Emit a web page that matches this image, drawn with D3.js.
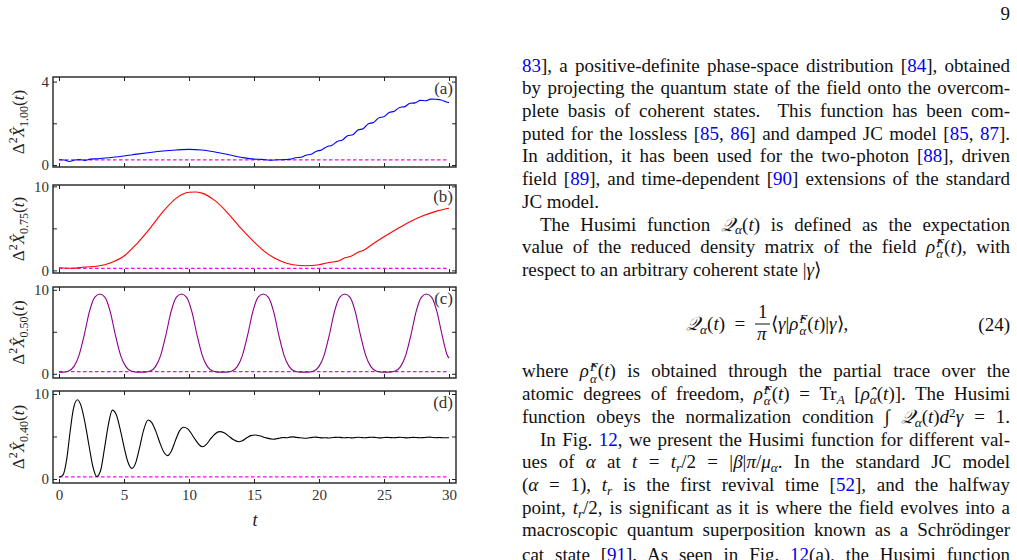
<!DOCTYPE html>
<html>
<head>
<meta charset="utf-8">
<script src="https://cdn.jsdelivr.net/npm/d3@7"></script>
<style>
body { margin: 0; background: #fff; }
#page { position: relative; width: 1017px; height: 560px; overflow: hidden; }
#page svg { position: absolute; left: 0; top: 0; }
.ln { position: absolute; left: 522px; width: 488px; font-family: "Liberation Serif", serif; font-size: 19px; line-height: 22px; color: #111; text-align: justify; text-align-last: justify; }
.ln.last { text-align-last: left; }
.ln.ind { left: 540px; width: 470px; }
.c { color: #0000f0; }
.m { font-style: italic; }
.sb { font-size: 0.7em; position: relative; top: 0.3em; line-height: 0; }
.sp { font-size: 0.7em; position: relative; top: -0.45em; line-height: 0; }
.ss { display: inline-block; font-size: 0.68em; line-height: 0.9em; vertical-align: -0.4em; text-align: left; margin-left: 1px; }
</style>
</head>
<body>
<div id="page"></div>
<script>
// time axis and tick values
const xTicks = [0, 5, 10, 15, 20, 25, 30];
const vacuum = 0.25;

// panel (a): alpha = 1.00
const tA = [0, 0.4, 0.8, 1.2, 1.6, 2.0, 2.4, 3, 4, 5, 6, 7, 8, 9, 10, 11, 12, 13, 14, 15, 15.6, 16.2, 16.8, 17.4, 17.8,
  18.2, 18.6, 19.0, 19.4, 19.8, 20.2, 20.6, 21.0, 21.4, 21.8, 22.2, 22.6, 23.0, 23.4, 23.8, 24.2, 24.6, 25.0, 25.4, 25.8,
  26.2, 26.6, 27.0, 27.4, 27.8, 28.2, 28.6, 29.0, 29.4, 29.8, 30];
const vA = [0.25, 0.24, 0.17, 0.24, 0.26, 0.22, 0.28, 0.3, 0.36, 0.43, 0.52, 0.6, 0.67, 0.72, 0.75, 0.72, 0.62, 0.5, 0.37, 0.28, 0.27, 0.23, 0.25, 0.26, 0.28,
  0.35, 0.37, 0.47, 0.52, 0.66, 0.72, 0.88, 0.95, 1.13, 1.2, 1.4, 1.45, 1.68, 1.74, 1.98, 2.04, 2.26, 2.32, 2.52, 2.58,
  2.76, 2.8, 2.96, 2.98, 3.1, 3.08, 3.16, 3.15, 3.12, 3.02, 2.99];

// panel (b): alpha = 0.75
const tB = [0, 1, 2, 3, 4, 5, 6, 7, 8, 9, 10, 10.5, 11, 12, 13, 14, 15, 16, 17, 18, 19, 20, 20.5, 21, 21.5, 22, 22.5, 23, 23.5, 24, 25, 26, 27, 28, 29, 30];
const vB = [0.32, 0.25, 0.4, 0.52, 0.92, 1.71, 3.2, 5.0, 7.0, 8.58, 9.3, 9.33, 9.2, 8.3, 6.8, 5.0, 3.4, 2.03, 1.15, 0.68, 0.56, 0.68, 0.85, 1.0, 1.12, 1.5, 1.72, 2.15, 2.45, 3.0, 4.0, 4.93, 5.8, 6.5, 7.03, 7.39];

// panel (c): alpha = 0.50
const tC = [0, 0.34, 0.74, 1.14, 1.54, 1.94, 2.34, 2.74, 3.14, 3.54, 3.94, 4.34, 4.74, 5.14, 5.54, 5.94, 6.28,
  6.62, 7.02, 7.42, 7.82, 8.22, 8.62, 9.02, 9.42, 9.82, 10.22, 10.62, 11.02, 11.42, 11.82, 12.22, 12.57,
  12.91, 13.31, 13.71, 14.11, 14.51, 14.91, 15.31, 15.71, 16.11, 16.51, 16.91, 17.31, 17.71, 18.11, 18.51, 18.85,
  19.19, 19.59, 19.99, 20.39, 20.79, 21.19, 21.59, 21.99, 22.39, 22.79, 23.19, 23.59, 23.99, 24.39, 24.79, 25.13,
  25.47, 25.87, 26.27, 26.67, 27.07, 27.47, 27.87, 28.27, 28.67, 29.07, 29.47, 29.87, 30];
const vC = [0.2, 0.2, 0.33, 0.85, 2.2, 4.6, 7.4, 9.1, 9.5, 9.1, 7.4, 4.6, 2.2, 0.85, 0.33, 0.2, 0.2,
  0.2, 0.33, 0.85, 2.2, 4.6, 7.4, 9.1, 9.5, 9.1, 7.4, 4.6, 2.2, 0.85, 0.33, 0.2, 0.2,
  0.2, 0.33, 0.85, 2.2, 4.6, 7.4, 9.1, 9.5, 9.1, 7.4, 4.6, 2.2, 0.85, 0.33, 0.2, 0.2,
  0.2, 0.33, 0.85, 2.2, 4.6, 7.4, 9.1, 9.5, 9.1, 7.4, 4.6, 2.2, 0.85, 0.33, 0.2, 0.2,
  0.2, 0.33, 0.85, 2.2, 4.6, 7.4, 9.1, 9.5, 9.1, 7.4, 4.6, 2.2, 1.85];

// panel (d): alpha = 0.40
const tD = [0, 0.3, 0.6, 0.85, 1.1, 1.41, 1.7, 2.0, 2.3, 2.6, 2.9, 3.2, 3.5, 3.8, 4.1, 4.4, 4.7, 5.0, 5.3, 5.6,
  5.9, 6.2, 6.5, 6.85, 7.15, 7.45, 7.75, 8.05, 8.35, 8.65, 8.95, 9.25, 9.6, 9.9, 10.2, 10.5, 10.8, 11.05,
  11.35, 11.7, 12.0, 12.35, 12.7, 13.05, 13.4, 13.8, 14.1, 14.45, 14.75, 15.1, 15.5, 15.9, 16.5,
  16.75, 17.0, 17.25, 17.5, 17.75, 18.0, 18.25, 18.5, 18.75, 19.0, 19.25, 19.5, 19.75, 20.0, 20.25, 20.5, 20.75,
  21.0, 21.25, 21.5, 21.75, 22.0, 22.25, 22.5, 22.75, 23.0, 23.25, 23.5, 23.75, 24.0, 24.25, 24.5, 24.75,
  25.0, 25.25, 25.5, 25.75, 26.0, 26.25, 26.5, 26.75, 27.0, 27.25, 27.5, 27.75, 28.0, 28.25, 28.5, 28.75,
  29.0, 29.25, 29.5, 29.75, 30];
const vD = [0.2, 0.45, 2.4, 5.5, 8.2, 9.33, 8.6, 6.6, 4.0, 1.5, 0.3, 1.0, 3.6, 6.4, 8.1, 7.6, 5.9, 3.8, 2.0, 1.25,
  1.9, 3.7, 5.7, 6.94, 6.6, 5.6, 4.3, 3.2, 2.75, 3.3, 4.5, 5.6, 6.08, 5.9, 5.3, 4.6, 4.0, 3.8,
  4.1, 4.8, 5.3, 5.57, 5.45, 5.05, 4.65, 4.39, 4.5, 4.85, 5.1, 5.18, 5.05, 4.85, 4.68,
  4.74, 4.82, 4.88, 4.85, 4.93, 4.96, 4.9, 4.86, 4.82, 4.8, 4.86, 4.9, 4.93, 4.88, 4.84, 4.86, 4.82,
  4.86, 4.9, 4.92, 4.87, 4.85, 4.88, 4.84, 4.87, 4.91, 4.89, 4.85, 4.88, 4.92, 4.9, 4.86, 4.84,
  4.88, 4.9, 4.87, 4.85, 4.88, 4.91, 4.88, 4.84, 4.87, 4.9, 4.88, 4.85, 4.87, 4.9, 4.93, 4.89,
  4.86, 4.88, 4.86, 4.85, 4.86];

const subs = ['1.00', '0.75', '0.50', '0.40'];
const tags = ['(a)', '(b)', '(c)', '(d)'];
const yMax = [4, 10, 10, 10];
const yTicks = [[0, 2, 4], [0, 5, 10], [0, 5, 10], [0, 5, 10]];

// layout of the four stacked frames
const panels = [
  { t: tA, v: vA, color: '#0000ff', top: 77, bot: 167, y0: 165, y1: 81.6 },
  { t: tB, v: vB, color: '#ff0000', top: 185, bot: 273, y0: 270.4, y1: 186.4 },
  { t: tC, v: vC, color: '#8a008a', top: 287, bot: 378, y0: 373.8, y1: 289.8 },
  { t: tD, v: vD, color: '#000000', top: 391, bot: 483, y0: 479, y1: 394 }
];
const frameL = 53, frameR = 456;
const serif = '"Liberation Serif", "Times New Roman", serif';

const page = d3.select('#page');
const svg = page.append('svg').attr('width', 1017).attr('height', 560);

const x = d3.scaleLinear().domain([0, 30]).range([59, 449]);

panels.forEach((p, i) => {
  const y = d3.scaleLinear().domain([0, yMax[i]]).range([p.y0, p.y1]);
  const g = svg.append('g');

  // data line and vacuum reference
  const pts = d3.zip(p.t, p.v);
  g.append('line')
    .attr('x1', x(0)).attr('x2', x(30))
    .attr('y1', y(vacuum)).attr('y2', y(vacuum))
    .attr('stroke', '#ff00ff').attr('stroke-width', 1.2)
    .attr('stroke-dasharray', '3.5,2.5');
  g.append('path')
    .datum(pts)
    .attr('fill', 'none')
    .attr('stroke', p.color)
    .attr('stroke-width', 1.1)
    .attr('d', d3.line().x(d => x(d[0])).y(d => y(d[1])).curve(d3.curveMonotoneX));

  // frame with inward ticks on all four sides
  const ends = [0, yMax[i]];
  const axes = [
    { ax: d3.axisBottom(x).tickValues(xTicks).tickFormat(i === 3 ? d3.format('d') : ''), tr: `translate(0,${p.bot})` },
    { ax: d3.axisTop(x).tickValues(xTicks).tickFormat(''), tr: `translate(0,${p.top})` },
    { ax: d3.axisLeft(y).tickValues(yTicks[i]).tickFormat(d => ends.includes(d) ? d : ''), tr: `translate(${frameL},0)` },
    { ax: d3.axisRight(y).tickValues(yTicks[i]).tickFormat(''), tr: `translate(${frameR},0)` }
  ];
  axes.forEach((a, k) => {
    const ag = g.append('g').attr('transform', a.tr)
      .call(a.ax.tickSizeInner(-4).tickSizeOuter(0).tickPadding(k === 0 ? 6 : 4));
    ag.select('.domain').remove();
    ag.selectAll('line').attr('stroke', '#222').attr('stroke-width', 1);
    ag.selectAll('text').attr('font-family', serif).attr('font-size', 15).attr('fill', '#333');
  });
  g.append('rect')
    .attr('x', frameL).attr('y', p.top)
    .attr('width', frameR - frameL).attr('height', p.bot - p.top)
    .attr('fill', 'none').attr('stroke', '#222').attr('stroke-width', 1.4);

  // panel tag
  g.append('text')
    .attr('x', 453).attr('y', p.top + 17)
    .attr('text-anchor', 'end')
    .attr('font-family', serif).attr('font-size', 17).attr('fill', '#333')
    .text(tags[i]);

  // rotated y label: Δ² X̂_sub (t)
  const lab = g.append('text')
    .attr('transform', `translate(24,${(p.top + p.bot) / 2}) rotate(-90)`)
    .attr('text-anchor', 'middle')
    .attr('font-family', serif).attr('font-size', 17).attr('fill', '#222');
  lab.append('tspan').text('\u0394');
  lab.append('tspan').attr('font-size', 12).attr('dy', -7).text('2');
  lab.append('tspan').attr('font-style', 'italic').attr('dy', 7).text('X\u0302');
  lab.append('tspan').attr('font-size', 12).attr('dy', 4).text(subs[i]);
  lab.append('tspan').attr('dy', -4).text('(');
  lab.append('tspan').attr('font-style', 'italic').text('t');
  lab.append('tspan').text(')');
});

// x axis title
svg.append('text')
  .attr('x', 255).attr('y', 526)
  .attr('text-anchor', 'middle')
  .attr('font-family', serif).attr('font-size', 18).attr('font-style', 'italic').attr('fill', '#222')
  .text('t');

// page number
svg.append('text')
  .attr('x', 1010).attr('y', 20)
  .attr('text-anchor', 'end')
  .attr('font-family', serif).attr('font-size', 19).attr('fill', '#111')
  .text('9');

// right text column
const c = s => `<span class="c">${s}</span>`;
const m = s => `<span class="m">${s}</span>`;
const Q = `<span class="m">𝒬</span><span class="sb m">α</span>(${m('t')})`;
const rhoF = `${m('ρ̂')}<span class="ss m">F<br>α</span>(${m('t')})`;
const lines = [
  [72, `${c('83')}], a positive-definite phase-space distribution [${c('84')}], obtained`, ''],
  [94.7, 'by projecting the quantum state of the field onto the overcom-', ''],
  [117.4, 'plete basis of coherent states.&nbsp; This function has been com-', ''],
  [140.1, `puted for the lossless [${c('85')}, ${c('86')}] and damped JC model [${c('85')}, ${c('87')}].`, ''],
  [162.8, `In addition, it has been used for the two-photon [${c('88')}], driven`, ''],
  [185.5, `field [${c('89')}], and time-dependent [${c('90')}] extensions of the standard`, ''],
  [208.2, 'JC model.', 'last'],
  [230.9, `The Husimi function ${Q} is defined as the expectation`, 'ind'],
  [253.6, `value of the reduced density matrix of the field ${rhoF}, with`, ''],
  [276.3, `respect to an arbitrary coherent state |${m('γ')}⟩`, 'last'],
  [377.8, `where ${rhoF} is obtained through the partial trace over the`, ''],
  [400.5, `atomic degrees of freedom, ${rhoF} = Tr<span class="sb m">A</span> [${m('ρ̂')}<span class="sb m">α</span>(${m('t')})]. The Husimi`, ''],
  [423.2, `function obeys the normalization condition ∫ ${Q}${m('d')}<span class="sp">2</span>${m('γ')} = 1.`, ''],
  [445.9, `In Fig. ${c('12')}, we present the Husimi function for different val-`, 'ind'],
  [468.6, `ues of ${m('α')} at ${m('t')} = ${m('t')}<span class="sb m">r</span>/2 = |${m('β')}|${m('π')}/${m('μ')}<span class="sb m">α</span>. In the standard JC model`, ''],
  [491.3, `(${m('α')} = 1), ${m('t')}<span class="sb m">r</span> is the first revival time [${c('52')}], and the halfway`, ''],
  [514, `point, ${m('t')}<span class="sb m">r</span>/2, is significant as it is where the field evolves into a`, ''],
  [536.7, 'macroscopic quantum superposition known as a Schrödinger', ''],
  [561.5, `cat state [${c('91')}]. As seen in Fig. ${c('12')}(a), the Husimi function`, '']
];
const asc = 17.4;
lines.forEach(([base, html, cls]) => {
  page.append('div').attr('class', 'ln ' + cls).style('top', (base - asc) + 'px').html(html);
});

// displayed equation (24)
const eq = (left, base, html, w, align) => page.append('div')
  .attr('class', 'ln last')
  .style('left', left + 'px').style('width', w ? w + 'px' : 'auto')
  .style('text-align', align || 'left').style('text-align-last', align || 'left')
  .style('top', (base - asc) + 'px')
  .html(html);
eq(630, 330, `${Q}&nbsp;&nbsp;=&nbsp;`, 120, 'right');
eq(758, 318, '1');
eq(757, 340, m('π'));
eq(771, 330, `⟨${m('γ')}|${rhoF}|${m('γ')}⟩,`);
eq(900, 331, '(24)', 110, 'right');
svg.append('line')
  .attr('x1', 755).attr('x2', 770).attr('y1', 324).attr('y2', 324)
  .attr('stroke', '#111').attr('stroke-width', 1);
</script>
</body>
</html>
